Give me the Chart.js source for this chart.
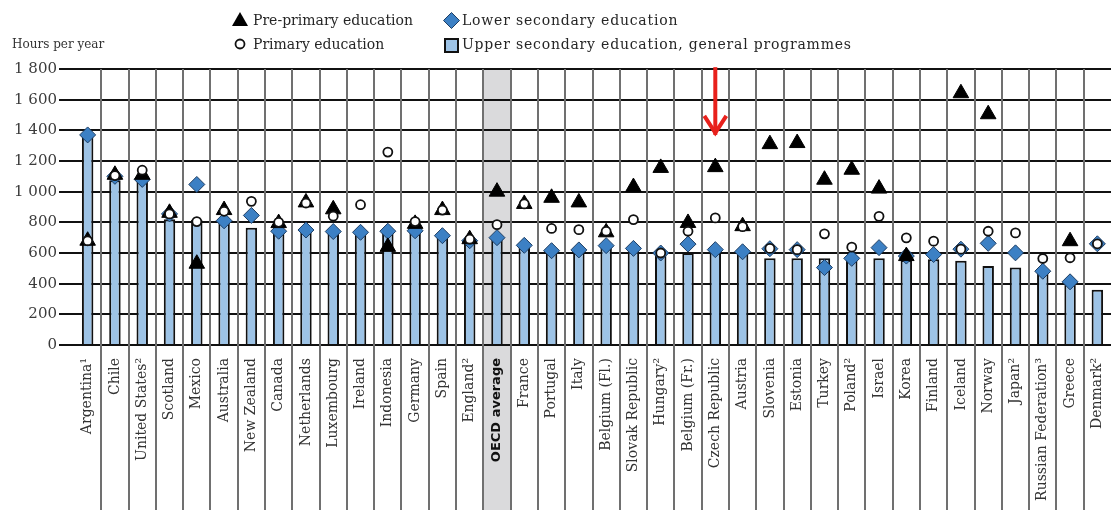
<!DOCTYPE html>
<html>
<head>
<meta charset="utf-8">
<script src="https://cdn.jsdelivr.net/npm/chart.js@4"></script>
<style>
  html, body { margin:0; padding:0; background:#fff; }
  #wrap { position:relative; width:1113px; height:510px; overflow:hidden; }
  #c { position:absolute; left:0; top:0; }
  .lg { position:absolute; font-family:'DejaVu Serif', serif; font-size:14px; color:#262626; white-space:nowrap; line-height:16px; }
  .wide { letter-spacing:0.8px; }
  .mk { position:absolute; }
  #unit { position:absolute; left:12px; top:37px; font-family:'DejaVu Serif', serif; font-size:12px; color:#333; }
</style>
</head>
<body>
<div id="wrap">
  <canvas id="c" width="1113" height="510"></canvas>
  <div id="unit">Hours per year</div>
  <svg class="mk" style="left:231px;top:11px" width="18" height="16"><polygon points="9,1 17,15 1,15" fill="#000"/></svg>
  <div class="lg" style="left:253px;top:12px">Pre-primary education</div>
  <svg class="mk" style="left:233px;top:37px" width="14" height="14"><circle cx="7" cy="7" r="4.5" fill="#fff" stroke="#111" stroke-width="1.8"/></svg>
  <div class="lg" style="left:253px;top:36px">Primary education</div>
  <svg class="mk" style="left:443px;top:12px" width="17" height="17"><polygon points="8.5,0.5 16.5,8.5 8.5,16.5 0.5,8.5" fill="#3C80C4" stroke="#1d3d63" stroke-width="1"/></svg>
  <div class="lg wide" style="left:462px;top:12px">Lower secondary education</div>
  <svg class="mk" style="left:444px;top:38px" width="15" height="15"><rect x="1" y="1" width="13" height="13" fill="#9DC3E6" stroke="#111" stroke-width="2"/></svg>
  <div class="lg wide" style="left:462px;top:36px">Upper secondary education, general programmes</div>
</div>
<script>
const categories = ['Argentina¹','Chile','United States²','Scotland','Mexico','Australia','New Zealand','Canada','Netherlands','Luxembourg','Ireland','Indonesia','Germany','Spain','England²','OECD average','France','Portugal','Italy','Belgium (Fl.)','Slovak Republic','Hungary²','Belgium (Fr.)','Czech Republic','Austria','Slovenia','Estonia','Turkey','Poland²','Israel','Korea','Finland','Iceland','Norway','Japan²','Russian Federation³','Greece','Denmark²'];

const upperSecondary = [1370,1075,1080,820,815,800,765,745,750,740,735,735,750,715,665,700,650,615,615,650,630,590,600,620,605,565,565,565,565,565,555,560,550,515,505,482,400,360];
const lowerSecondary = [1370,1100,1080,855,1047,810,845,742,750,740,735,742,745,713,680,700,650,615,620,648,630,600,658,622,608,628,622,505,565,635,580,590,625,663,601,481,412,660];
const primary = [680,1105,1140,855,805,872,937,800,926,840,915,1258,805,880,690,785,920,760,752,742,818,600,742,829,772,630,622,725,638,839,699,677,625,742,731,564,569,660];
const prePrimary = [680,1110,1110,862,530,880,null,795,930,885,null,640,790,880,690,1000,920,960,930,735,1030,1155,796,1160,775,1310,1317,1078,1143,1020,580,null,1642,1505,null,null,677,null];

const yTicks = [0,200,400,600,800,1000,1200,1400,1600,1800];
const highlightCategory = 'OECD average';
const arrowCategory = 'Czech Republic';
const arrowFromValue = 1812;
const arrowToValue = 1370;

function fmtThousands(v) {
  if (v >= 1000) return Math.floor(v/1000) + ' ' + String(v % 1000).padStart(3,'0');
  return String(v);
}

const bgPlugin = {
  id: 'bgPlugin',
  beforeDraw(chart) {
    const {ctx, chartArea} = chart;
    const x = chart.scales.x;
    const i = categories.indexOf(highlightCategory);
    const half = (x.getPixelForValue(1) - x.getPixelForValue(0)) / 2;
    const cx = x.getPixelForValue(i);
    ctx.save();
    ctx.fillStyle = '#dadadc';
    ctx.fillRect(cx - half, chartArea.top, half * 2, chart.height - chartArea.top);
    ctx.restore();
  },
  beforeDatasetsDraw(chart) {
    const {ctx, chartArea} = chart;
    const x = chart.scales.x;
    ctx.save();
    ctx.strokeStyle = '#707070';
    ctx.lineWidth = 2;
    for (let i = 0; i < categories.length - 1; i++) {
      const px = Math.round((x.getPixelForValue(i) + x.getPixelForValue(i + 1)) / 2);
      ctx.beginPath();
      ctx.moveTo(px, chartArea.top);
      ctx.lineTo(px, chart.height);
      ctx.stroke();
    }
    ctx.restore();
  },
  afterDraw(chart) {
    const {ctx} = chart;
    const x = chart.scales.x, y = chart.scales.y;
    const px = x.getPixelForValue(categories.indexOf(arrowCategory));
    const y0 = y.getPixelForValue(arrowFromValue);
    const y1 = y.getPixelForValue(arrowToValue);
    ctx.save();
    ctx.strokeStyle = '#e8211c';
    ctx.lineWidth = 4;
    ctx.lineJoin = 'miter';
    ctx.beginPath();
    ctx.moveTo(px, y0);
    ctx.lineTo(px, y1);
    ctx.stroke();
    ctx.beginPath();
    ctx.moveTo(px - 11, y1 - 19);
    ctx.lineTo(px, y1 - 2);
    ctx.lineTo(px + 11, y1 - 19);
    ctx.stroke();
    ctx.restore();
  }
};

new Chart(document.getElementById('c'), {
  data: {
    labels: categories,
    datasets: [
      { type:'line', label:'Primary education', data: primary, showLine:false, order:1,
        pointStyle:'circle', pointRadius:4.5, pointBackgroundColor:'#fff', pointBorderColor:'#111', pointBorderWidth:1.8 },
      { type:'line', label:'Pre-primary education', data: prePrimary, showLine:false, order:2,
        pointStyle:'triangle', pointRadius:9, pointBackgroundColor:'#000', pointBorderColor:'#000', pointBorderWidth:1 },
      { type:'line', label:'Lower secondary education', data: lowerSecondary, showLine:false, order:3,
        pointStyle:'rectRot', pointRadius:8, pointBackgroundColor:'#3C80C4', pointBorderColor:'#1d3d63', pointBorderWidth:1 },
      { type:'bar', label:'Upper secondary education, general programmes', data: upperSecondary, order:4,
        backgroundColor:'#9DC3E6', borderColor:'#111', borderWidth:2, barPercentage:0.42, categoryPercentage:1.0 }
    ]
  },
  options: {
    responsive:false,
    devicePixelRatio:1,
    animation:false,
    events:[],
    layout:{ autoPadding:false, padding:{ top:69, right:2, left:0, bottom:0 } },
    plugins:{ legend:{ display:false }, tooltip:{ enabled:false } },
    scales:{
      x:{
        offset:true,
        grid:{ display:false },
        border:{ display:false },
        ticks:{
          autoSkip:false, minRotation:90, maxRotation:90, padding:5,
          color:(c) => (categories[c.index] === highlightCategory) ? '#111' : '#333',
          font:(c) => (categories[c.index] === highlightCategory)
            ? { family:'DejaVu Sans', size:13, weight:'bold' }
            : { family:'DejaVu Serif', size:14 }
        },
        afterFit(s){ s.height = 165; s.paddingLeft = 0; s.paddingRight = 0; }
      },
      y:{
        min:0, max:1800,
        afterBuildTicks(s){ s.ticks = yTicks.map(v => ({ value:v })); },
        grid:{ color:'#111', lineWidth:2, tickLength:15, drawTicks:true },
        border:{ display:false },
        ticks:{ color:'#3b3b3b', padding:2, font:{ family:'DejaVu Serif', size:15 }, callback:(v) => fmtThousands(v) },
        afterFit(s){ s.width = 74; }
      }
    }
  },
  plugins:[bgPlugin]
});
</script>
</body>
</html>
